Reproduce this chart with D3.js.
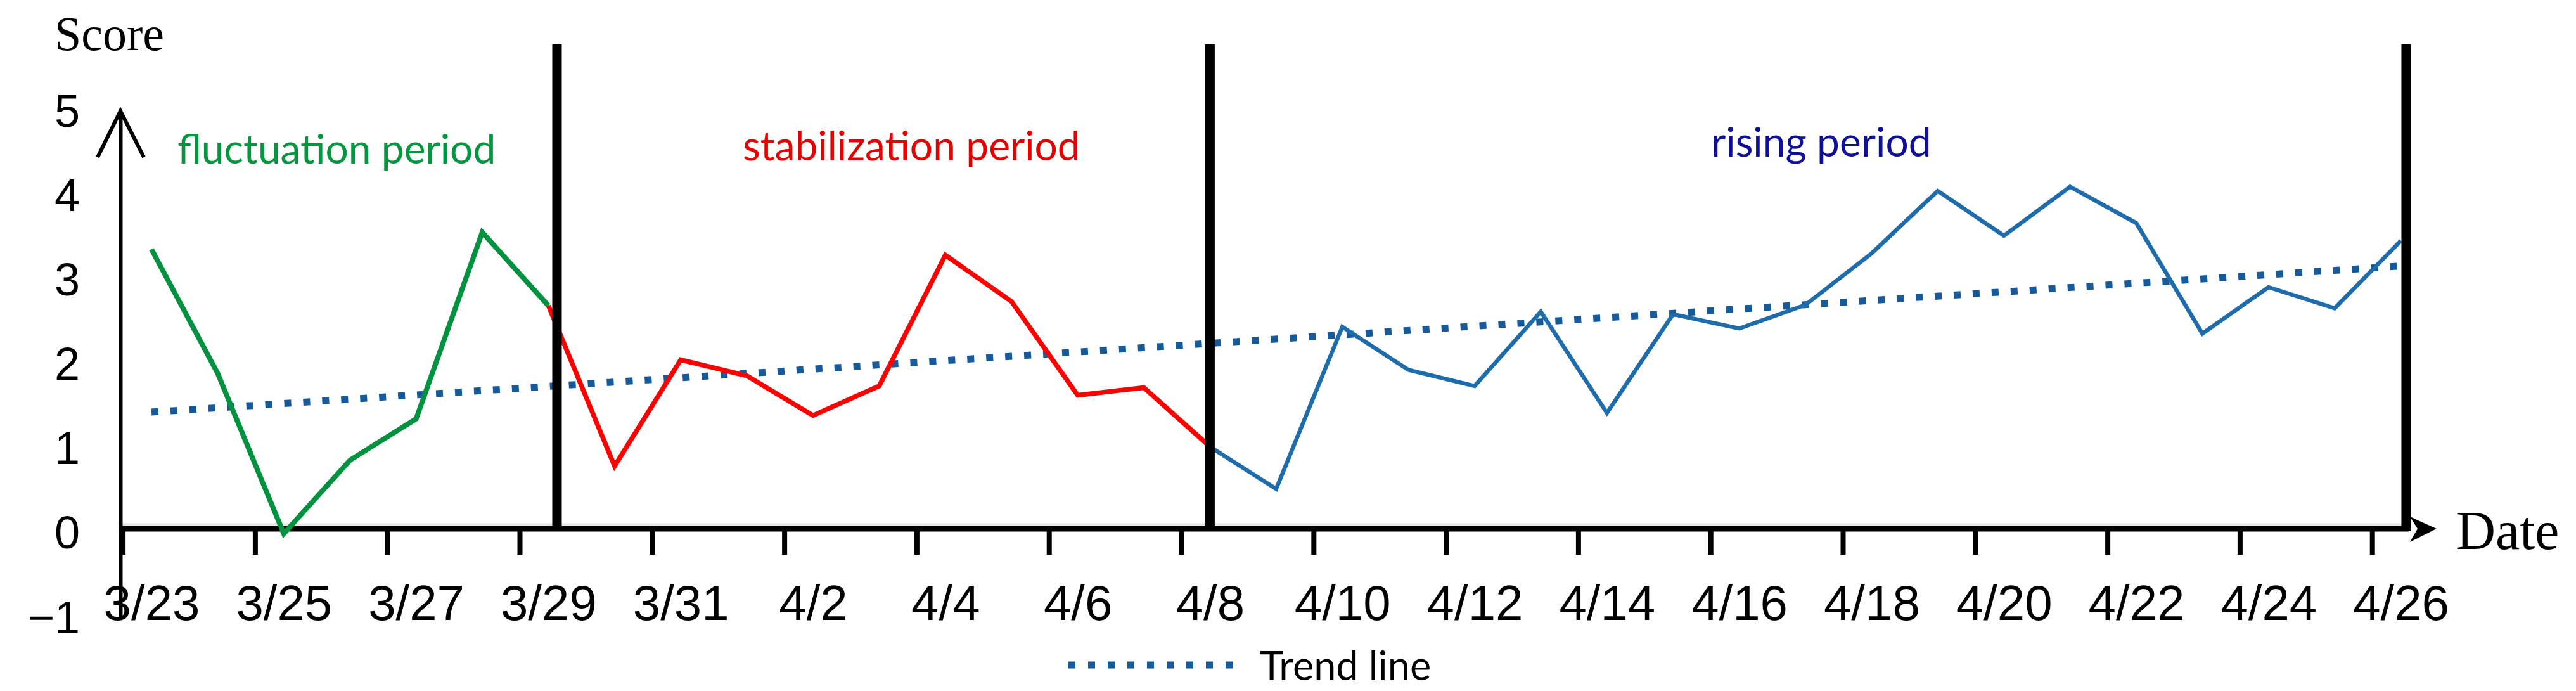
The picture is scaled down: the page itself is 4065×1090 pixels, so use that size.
<!DOCTYPE html>
<html>
<head>
<meta charset="utf-8">
<script src="https://cdn.jsdelivr.net/npm/d3@7"></script>
<style>
  html, body { margin: 0; padding: 0; background: #ffffff; }
  svg { display: block; }
</style>
</head>
<body>
<svg id="chart" width="4065" height="1090"></svg>
<script>
// ---------------- data ----------------
const dates = ["3/23","3/24","3/25","3/26","3/27","3/28","3/29","3/30","3/31",
  "4/1","4/2","4/3","4/4","4/5","4/6","4/7","4/8","4/9","4/10","4/11","4/12",
  "4/13","4/14","4/15","4/16","4/17","4/18","4/19","4/20","4/21","4/22","4/23",
  "4/24","4/25","4/26"];
const tickLabelDates = ["3/23","3/25","3/27","3/29","3/31","4/2","4/4","4/6","4/8",
  "4/10","4/12","4/14","4/16","4/18","4/20","4/22","4/24","4/26"];
const yTickValues = [-1, 0, 1, 2, 3, 4, 5];

// fluctuation period: 3/23 - 3/29
const fluctuationDates = ["3/23","3/24","3/25","3/26","3/27","3/28","3/29"];
const fluctuationScores = [3.37, 1.9, 0.0, 0.87, 1.36, 3.57, 2.7];
// stabilization period: 3/29 - 4/8
const stabilizationDates = ["3/29","3/30","3/31","4/1","4/2","4/3","4/4","4/5","4/6","4/7","4/8"];
const stabilizationScores = [2.7, 0.8, 2.06, 1.87, 1.4, 1.75, 3.3, 2.75, 1.64, 1.73, 1.03];
// rising period: 4/8 - 4/26
const risingDates = ["4/8","4/9","4/10","4/11","4/12","4/13","4/14","4/15","4/16","4/17",
  "4/18","4/19","4/20","4/21","4/22","4/23","4/24","4/25","4/26"];
const risingScores = [1.03, 0.53, 2.45, 1.94, 1.75, 2.63, 1.43, 2.6, 2.43, 2.71,
  3.32, 4.06, 3.53, 4.11, 3.68, 2.37, 2.92, 2.67, 3.47];

// trend line: value at first and last date
const trendDates = ["3/23", "4/26"];
const trendScores = [1.44, 3.17];

// period dividers (fractional date index)
const dividerPositions = [6.13, 16.0, 34.08];

const periodLabels = ["fluctuation period", "stabilization period", "rising period"];

// ---------------- layout ----------------
const svg = d3.select("#chart");
const idx = d => dates.indexOf(d);

const x = d3.scaleLinear().domain([0, dates.length - 1]).range([239, 3788.6]);
const y = d3.scaleLinear().domain([-1, 5]).range([975, 176]);

const axisY = 834;          // drawn x-axis line
const yAxisX = 190;
const tickOffset = 0.43;    // ticks between categories
const dividerTop = 70;

// light plot border
svg.append("line")
  .attr("x1", yAxisX).attr("x2", 3795)
  .attr("y1", axisY - 7).attr("y2", axisY - 7)
  .attr("stroke", "#e2e2e2").attr("stroke-width", 3);

// ---------- y axis ----------
const yAxis = d3.axisLeft(y)
  .tickValues(yTickValues)
  .tickFormat(d3.format("d"))
  .tickSize(0).tickSizeOuter(0)
  .tickPadding(yAxisX - 126);
const yg = svg.append("g").attr("transform", `translate(${yAxisX},0)`).call(yAxis);
yg.select(".domain").attr("stroke", "#000").attr("stroke-width", 6);
yg.selectAll("text")
  .attr("font-family", "'Liberation Sans', Arial, sans-serif")
  .attr("font-size", 72)
  .attr("fill", "#000");
// arrow head (open)
svg.append("path")
  .attr("d", `M${yAxisX - 36},${y(5) + 72} L${yAxisX},${y(5) - 1} L${yAxisX + 37},${y(5) + 72}`)
  .attr("fill", "none").attr("stroke", "#000").attr("stroke-width", 6)
  .attr("stroke-linejoin", "miter");

// ---------- x axis ----------
const xAxis = d3.axisBottom(x)
  .tickValues(tickLabelDates.map(idx))
  .tickFormat(i => dates[i])
  .tickSize(0).tickSizeOuter(0)
  .tickPadding(89);
const xg = svg.append("g").attr("transform", `translate(0,${axisY})`).call(xAxis);
xg.select(".domain").remove();
xg.selectAll("text")
  .attr("font-family", "'Liberation Sans', Arial, sans-serif")
  .attr("font-size", 78)
  .attr("fill", "#000");

// tick marks (between categories)
svg.append("g").selectAll("line")
  .data(tickLabelDates.map(idx))
  .join("line")
  .attr("x1", i => x(i - tickOffset)).attr("x2", i => x(i - tickOffset))
  .attr("y1", axisY).attr("y2", axisY + 41)
  .attr("stroke", "#000").attr("stroke-width", 8);

// x axis line
const xEnd = x(dividerPositions[2]) + 4;
svg.append("line")
  .attr("x1", yAxisX - 3).attr("x2", xEnd)
  .attr("y1", axisY).attr("y2", axisY)
  .attr("stroke", "#000").attr("stroke-width", 9);
// x arrow
svg.append("path")
  .attr("d", `M${xEnd + 44},${axisY} L${xEnd + 2},${axisY - 19} L${xEnd + 14},${axisY} L${xEnd + 2},${axisY + 21} Z`)
  .attr("fill", "#000");

// ---------- trend line ----------
const trendColor = "#165a9a";
svg.append("line")
  .attr("x1", x(idx(trendDates[0]))).attr("x2", x(idx(trendDates[1])))
  .attr("y1", y(trendScores[0])).attr("y2", y(trendScores[1]))
  .attr("stroke", trendColor).attr("stroke-width", 11)
  .attr("stroke-dasharray", "11 19");

// ---------- series ----------
const line = d3.line().x(d => x(idx(d.date))).y(d => y(d.v));
const series = [
  { dates: fluctuationDates, vals: fluctuationScores, color: "#00923f", w: 8 },
  { dates: stabilizationDates, vals: stabilizationScores, color: "#ff0000", w: 7.5 },
  { dates: risingDates, vals: risingScores, color: "#1f6cad", w: 6.5 }
];
series.forEach(s => {
  svg.append("path")
    .datum(s.dates.map((d, i) => ({ date: d, v: s.vals[i] })))
    .attr("d", line)
    .attr("fill", "none")
    .attr("stroke", s.color)
    .attr("stroke-width", s.w)
    .attr("stroke-linejoin", "miter");
});

// ---------- dividers ----------
svg.append("g").selectAll("line")
  .data(dividerPositions)
  .join("line")
  .attr("x1", d => x(d)).attr("x2", d => x(d))
  .attr("y1", dividerTop).attr("y2", axisY + 4)
  .attr("stroke", "#000").attr("stroke-width", 15);

// ---------- period labels ----------
const labelFont = "Lato, 'Open Sans', sans-serif";
const labelSpecs = [
  { text: periodLabels[0], x: 280, y: 258, color: "#00973f" },
  { text: periodLabels[1], x: 1172, y: 253, color: "#e60000" },
  { text: periodLabels[2], x: 2700, y: 247, color: "#0f0f9a" }
];
svg.append("g").selectAll("text")
  .data(labelSpecs)
  .join("text")
  .attr("x", d => d.x).attr("y", d => d.y)
  .attr("fill", d => d.color)
  .attr("font-family", labelFont)
  .attr("font-size", 64)
  .text(d => d.text);

// ---------- axis titles ----------
svg.append("text")
  .attr("x", 86).attr("y", 79)
  .attr("font-family", "'Liberation Serif', 'Times New Roman', serif")
  .attr("font-size", 76)
  .attr("fill", "#000")
  .text("Score");
svg.append("text")
  .attr("x", 3876).attr("y", 866)
  .attr("font-family", "'Liberation Serif', 'Times New Roman', serif")
  .attr("font-size", 86)
  .attr("fill", "#000")
  .text("Date");

// ---------- legend ----------
svg.append("line")
  .attr("x1", 1686).attr("x2", 1946)
  .attr("y1", 1049).attr("y2", 1049)
  .attr("stroke", trendColor).attr("stroke-width", 11)
  .attr("stroke-dasharray", "11 20");
svg.append("text")
  .attr("x", 1988).attr("y", 1073)
  .attr("font-family", labelFont)
  .attr("font-size", 63)
  .attr("fill", "#000")
  .text("Trend line");
</script>
</body>
</html>
